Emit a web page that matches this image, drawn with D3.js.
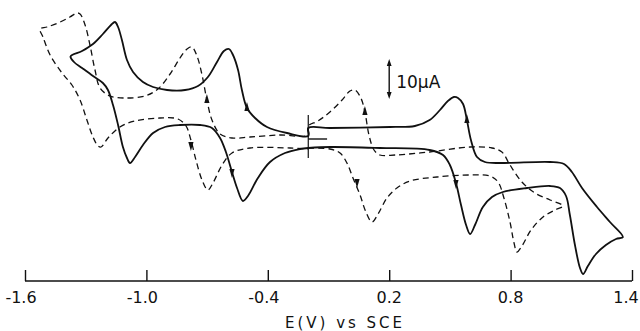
<!DOCTYPE html>
<html>
<head>
<meta charset="utf-8">
<script src="https://d3js.org/d3.v7.min.js"></script>
<style>
  * { margin: 0; padding: 0; }
  body { background: #fff; width: 640px; height: 331px; overflow: hidden; }
  svg { display: block; }
  text { font-family: 'DejaVu Sans', sans-serif; fill: #111; }
</style>
</head>
<body>
<svg id="cv" width="640" height="331"></svg>
<script>
// potential (V vs SCE), current (uA, cathodic up)
const xTicks = [-1.6, -1.0, -0.4, 0.2, 0.8, 1.4];
const axisTitle = "E(V) vs SCE";
const scaleLabel = "10\u00b5A";

const solidE = [-0.20, -0.09, 0.154, 0.40, 0.466, 0.50, 0.53, 0.555, 0.58, 0.60, 0.624, 0.663, 0.708, 0.762, 0.881, 0.995, 1.044, 1.074, 1.093, 1.118, 1.143, 1.158, 1.182, 1.222, 1.271, 1.321, 1.355,
  1.291, 1.227, 1.153, 1.103, 1.064, 0.995, 0.762, 0.673, 0.634, 0.604, 0.584, 0.565, 0.54, 0.52, 0.49, 0.451, 0.40, 0.327, 0.204, -0.093, -0.20,
  -0.20, -0.305, -0.404, -0.463, -0.503, -0.528, -0.547, -0.572, -0.592, -0.617, -0.651, -0.696, -0.745, -0.809, -0.898, -0.967, -1.017, -1.066, -1.096, -1.121, -1.14, -1.155, -1.175, -1.215, -1.264, -1.318, -1.375,
  -1.358, -1.318, -1.264, -1.215, -1.19, -1.165, -1.14, -1.116, -1.096, -1.081, -1.056, -1.017, -0.967, -0.908, -0.834, -0.735, -0.676, -0.636, -0.607, -0.577, -0.552, -0.523, -0.498, -0.449, -0.389, -0.315, -0.241, -0.20];
const solidI = [0.5, 0.75, 0.5, 0, -1.25, -3.75, -8.25, -13.75, -18.75, -21, -18.75, -14.25, -11.75, -10.5, -9.5, -9, -9.5, -11.5, -16.25, -23.75, -29.5, -31, -29, -26, -23.75, -22.25, -21.75,
  -18, -14.25, -9.5, -5.5, -3.5, -3, -3.25, -3, -1.75, 2.5, 7.5, 11.5, 13, 13.25, 12.25, 10, 7.5, 6, 5.75, 5.5, 5.5,
  3.5, 4.25, 5.75, 8, 10.5, 15, 20, 23.75, 25.25, 24.75, 22, 18.25, 16, 15, 15, 15.75, 17, 19.5, 22.5, 27.5, 30.75, 32, 31.25, 29, 26.5, 24.75, 23.4,
  22, 20.5, 18.5, 16.75, 15, 11.25, 6.25, 0.75, -2, -3.25, -1.75, 1.25, 4.25, 5.75, 6.25, 6.25, 5.5, 3, -0.5, -5.5, -9.5, -12.75, -11.5, -7, -3, -0.75, 0.25, 0.5];

const dashE = [-0.20, -0.093, -0.043, -0.009, 0.021, 0.056, 0.085, 0.115, 0.145, 0.189, 0.238, 0.303, 0.436, 0.599, 0.698, 0.738, 0.767, 0.797, 0.817, 0.831, 0.856, 0.901, 0.96, 1.019, 1.059,
  0.995, 0.92, 0.856, 0.797, 0.757, 0.708, 0.599, 0.40, 0.229, 0.154, 0.125, 0.10, 0.08, 0.06, 0.031, 0.006, -0.033, -0.093, -0.152, -0.20,
  -0.20, -0.34, -0.488, -0.577, -0.636, -0.676, -0.701, -0.725, -0.75, -0.775, -0.799, -0.834, -0.883, -0.943, -1.007, -1.106, -1.18, -1.229, -1.254, -1.279, -1.303, -1.328, -1.343, -1.378, -1.437, -1.491, -1.526,
  -1.511, -1.476, -1.417, -1.368, -1.328, -1.294, -1.264, -1.239, -1.224, -1.19, -1.131, -1.056, -0.933, -0.844, -0.804, -0.78, -0.755, -0.725, -0.696, -0.671, -0.626, -0.577, -0.488, -0.29, -0.20];
const dashI = [0.5, 0.25, -0.75, -3.25, -7, -11.25, -15.5, -18, -16, -12, -9.5, -7.75, -6.75, -6.25, -6.5, -8, -12, -18, -23.25, -25.5, -24, -20, -16.75, -15, -14,
  -12.5, -10.75, -8, -3.75, -0.5, 0.5, 0.75, -0.5, -1.25, -1.25, 0, 3.75, 9.5, 13, 15, 14.75, 12.5, 9.5, 7.25, 6,
  3.75, 3.75, 3.25, 3, 4, 7.5, 12.5, 18.75, 23.5, 25.75, 25.25, 23, 19, 15.25, 13.5, 13, 13.5, 15.5, 20, 26.25, 31.25, 34, 34.25, 33.25, 31.75, 30.75, 30.25,
  28.25, 23.75, 19.25, 16.25, 12.5, 7.5, 3.25, 1, 0.75, 3, 5.75, 7.25, 8, 7.75, 6, 2.5, -2.5, -7.5, -10, -8.25, -3.75, -0.75, 0.5, 0.5, 0.25];

// scan direction arrows: E, i, +1 up / -1 down
const solidArrowE = [0.53, 0.584, -0.503, -0.577];
const solidArrowI = [-8.25, 7.5, 10.5, -5.5];
const solidArrowDir = [-1, 1, 1, -1];
const dashArrowE = [0.041, 0.08, -0.701, -0.78];
const dashArrowI = [-8, 9.5, 12.5, 1.25];
const dashArrowDir = [-1, 1, 1, -1];

const svg = d3.select("#cv");
const x = d3.scaleLinear().domain([-1.6, 1.4]).range([25, 632]);
const y = d3.scaleLinear().domain([-33, 31]).range([282, 26]);

// axis: baseline with ticks pointing up
const axisY = 281;
const axis = svg.append("g").attr("transform", `translate(0,${axisY})`)
  .call(d3.axisTop(x).tickValues(xTicks).tickSize(11).tickFormat(""));
axis.select(".domain").attr("stroke", "#111").attr("stroke-width", 1.6).attr("d", `M${x(-1.6)},0H${x(1.4)}`);
axis.selectAll(".tick line").attr("stroke", "#111").attr("stroke-width", 1.4);

svg.append("g").selectAll("text").data(xTicks).join("text")
  .attr("x", d => x(d) - (d < 0 ? 4 : d > 1 ? 6 : 0))
  .attr("y", 303)
  .attr("text-anchor", "middle")
  .attr("font-size", 16)
  .text(d => d.toFixed(1));

svg.append("text")
  .attr("x", 345).attr("y", 328)
  .attr("text-anchor", "middle")
  .attr("font-size", 15)
  .attr("letter-spacing", 3)
  .text(axisTitle);

const line = d3.line()
  .x(d => x(d[0])).y(d => y(d[1]))
  .curve(d3.curveCatmullRom.alpha(0.5));

svg.append("path")
  .datum(dashE.map((e, k) => [e, dashI[k]]))
  .attr("d", line)
  .attr("fill", "none").attr("stroke", "#111")
  .attr("stroke-width", 1.3).attr("stroke-dasharray", "6,4");

svg.append("path")
  .datum(solidE.map((e, k) => [e, solidI[k]]))
  .attr("d", line)
  .attr("fill", "none").attr("stroke", "#111")
  .attr("stroke-width", 1.8);

function arrows(es, is, dirs) {
  svg.append("g").selectAll("path").data(es.map((e, k) => [e, is[k], dirs[k]])).join("path")
    .attr("transform", d => `translate(${x(d[0])},${y(d[1])})`)
    .attr("d", d => d[2] > 0 ? "M0,-6L2.6,3L-2.6,3Z" : "M0,6L2.6,-3L-2.6,-3Z")
    .attr("fill", "#111");
}
arrows(solidArrowE, solidArrowI, solidArrowDir);
arrows(dashArrowE, dashArrowI, dashArrowDir);

// starting-potential marker
svg.append("line")
  .attr("x1", x(-0.2)).attr("x2", x(-0.2))
  .attr("y1", y(8.75)).attr("y2", y(-2))
  .attr("stroke", "#111").attr("stroke-width", 1.2);
svg.append("line")
  .attr("x1", x(-0.2)).attr("x2", x(-0.107))
  .attr("y1", y(2.75)).attr("y2", y(2.75))
  .attr("stroke", "#111").attr("stroke-width", 1.4);

// 10 uA scale bar
const barTop = 22.75, barBot = 12.75;
svg.append("line")
  .attr("x1", x(0.2)).attr("x2", x(0.2))
  .attr("y1", y(barTop) + 3).attr("y2", y(barBot) - 3)
  .attr("stroke", "#111").attr("stroke-width", 1.4);
svg.append("path")
  .attr("d", `M${x(0.2)},${y(barTop)}l2.4,7h-4.8Z M${x(0.2)},${y(barBot)}l2.4,-7h-4.8Z`)
  .attr("fill", "#111");
svg.append("text")
  .attr("x", x(0.2) + 7).attr("y", y(15.6))
  .attr("font-size", 17)
  .text(scaleLabel);
</script>
</body>
</html>
